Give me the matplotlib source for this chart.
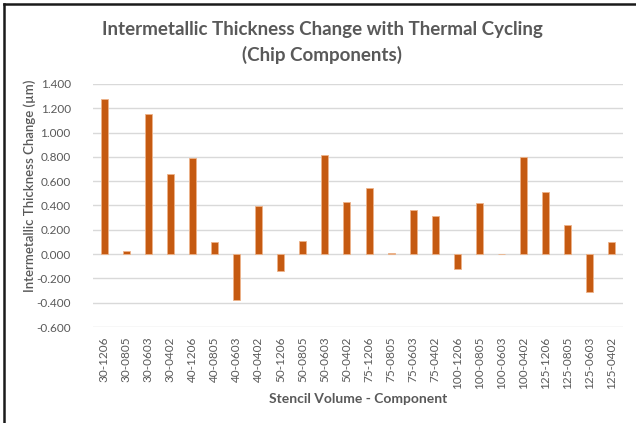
import matplotlib
matplotlib.use("Agg")
import matplotlib.pyplot as plt
from matplotlib.lines import Line2D

# dane
components = [
    "30-1206", "30-0805", "30-0603", "30-0402",
    "40-1206", "40-0805", "40-0603", "40-0402",
    "50-1206", "50-0805", "50-0603", "50-0402",
    "75-1206", "75-0805", "75-0603", "75-0402",
    "100-1206", "100-0805", "100-0603", "100-0402",
    "125-1206", "125-0805", "125-0603", "125-0402",
]
thickness_change = [
    1.280, 0.025, 1.150, 0.657,
    0.795, 0.100, -0.374, 0.395,
    -0.140, 0.105, 0.815, 0.427,
    0.540, 0.012, 0.362, 0.310,
    -0.121, 0.420, 0.000, 0.797,
    0.515, 0.242, -0.316, 0.100,
]
y_ticks = [-0.6, -0.4, -0.2, 0.0, 0.2, 0.4, 0.6, 0.8, 1.0, 1.2, 1.4]

GRAY = "#595959"
BAR = "#C55A11"
plt.rcParams["font.family"] = ["Lato", "DejaVu Sans"]

fig = plt.figure(figsize=(6.36, 4.23), dpi=100)
ax = fig.add_axes([93 / 636, 1 - 327 / 423, 530 / 636, 243 / 423])

x = range(len(components))
ax.bar(x, thickness_change, width=0.32, color=BAR, edgecolor="#EDB38A",
       linewidth=0.6, zorder=3)

ax.set_ylim(-0.6, 1.4)
ax.set_xlim(-0.5, len(components) - 0.5)
ax.set_yticks(y_ticks)
ax.set_yticklabels([f"{v:.3f}" for v in y_ticks])
ax.set_xticks(list(x))
ax.set_xticklabels(components, rotation=90)
ax.tick_params(axis="both", length=0, colors=GRAY)
ax.tick_params(axis="y", pad=16, labelsize=8.5)
ax.tick_params(axis="x", pad=7, labelsize=8.5)
ax.yaxis.grid(True, color="#D9D9D9", linewidth=1.0, zorder=0)
for s in ax.spines.values():
    s.set_visible(False)

ax.set_ylabel("Intermetallic Thickness Change (\u00b5m)", color=GRAY,
              fontsize=9.5, fontweight="semibold")
ax.yaxis.set_label_coords(-0.108, 0.58)
ax.set_xlabel("Stencil Volume - Component", color=GRAY, fontsize=10,
              fontweight="bold")
ax.xaxis.set_label_coords(0.5, -0.27)

fig.text(322 / 636, 1 - 30 / 423, "Intermetallic Thickness Change with Thermal Cycling",
         ha="center", va="center", fontsize=13.5, fontweight="bold", color=GRAY)
fig.text(322 / 636, 1 - 55 / 423, "(Chip Components)",
         ha="center", va="center", fontsize=13.5, fontweight="bold", color=GRAY)

# ramka zrzutu ekranu (góra i lewa krawędź)
fig.add_artist(Line2D([4 / 636, 1], [1 - 4 / 423, 1 - 4 / 423],
                      transform=fig.transFigure, color="#1a1a1a", linewidth=1.8))
fig.add_artist(Line2D([4 / 636, 4 / 636], [0, 1 - 4 / 423],
                      transform=fig.transFigure, color="#1a1a1a", linewidth=1.8))

fig.savefig("out.png", dpi=100)
plt.close(fig)
